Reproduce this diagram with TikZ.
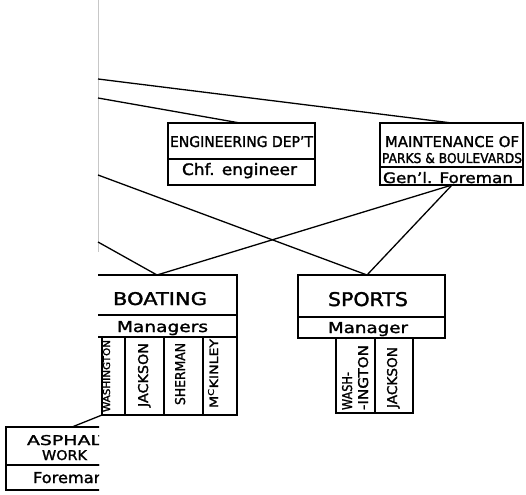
\documentclass[tikz,border=0pt]{standalone}
\usepackage{fontspec}
\setmainfont{DejaVu Sans}[FakeBold=1.6]
\usepackage{graphicx}
% lettering squeezed to a given width and cap height (in pt)
\newcommand{\fitw}[3]{\resizebox{#1pt}{#2pt}{#3}}

\begin{document}
\begin{tikzpicture}[x=1pt,y=-1pt,
  frame/.style={draw, line width=1.4pt, inner sep=0pt, outer sep=0pt, anchor=north west},
  wire/.style={line width=1.3pt},
  fold/.style={draw=black!22, line width=0.6pt},
  lbl/.style={inner sep=0pt, outer sep=0pt, anchor=base west},
  vlbl/.style={inner sep=0pt, outer sep=0pt, anchor=base west, rotate=90}]
\useasboundingbox (0,0) rectangle (526,494);

% sheet fold
\draw[fold] (98,0) -- (98,252);

% Engineering department
\node[frame, minimum width=147pt, minimum height=36pt] (engT) at (168,123) {};
\node[frame, minimum width=147pt, minimum height=26pt] (engR) at (168,159) {};
\node[lbl] (engL) at (170,147) {\fitw{143}{11}{ENGINEERING DEP'T}};
\node[lbl] (engM) at (182,175) {\fitw{115}{12}{Chf. engineer}};

% Maintenance of parks and boulevards
\node[frame, minimum width=143pt, minimum height=44pt] (mntT) at (380,123) {};
\node[frame, minimum width=143pt, minimum height=18pt] (mntR) at (380,167) {};
\node[lbl] (mntL1) at (385,147) {\fitw{134}{11}{MAINTENANCE OF}};
\node[lbl] (mntL2) at (382,163) {\fitw{140}{10}{PARKS {\&} BOULEVARDS}};
\node[lbl] (mntM) at (383,183) {\fitw{130}{11}{Gen'l. Foreman}};

% Boating
\begin{scope}
\clip (98,0) rectangle (526,494);
\node[frame, minimum width=147pt, minimum height=40pt] (boatT) at (90,275) {};
\node[frame, minimum width=147pt, minimum height=22pt] (boatR) at (90,315) {};
\node[frame, minimum width=23pt, minimum height=78pt] (bc1) at (102,337) {};
\node[frame, minimum width=39pt, minimum height=78pt] (bc2) at (125,337) {};
\node[frame, minimum width=39pt, minimum height=78pt] (bc3) at (164,337) {};
\node[frame, minimum width=34pt, minimum height=78pt] (bc4) at (203,337) {};
\node[vlbl] (bn1) at (110,412) {\fitw{72}{7}{WASHINGTON}};
\end{scope}
\node[lbl] (boatL) at (113,305) {\fitw{94}{13}{BOATING}};
\node[lbl] (boatM) at (117,332) {\fitw{91}{11}{Managers}};
\node[vlbl] (bn2) at (148,407) {\fitw{64}{10}{JACKSON}};
\node[vlbl] (bn3) at (185,405) {\fitw{62}{10}{SHERMAN}};
\node[vlbl] (bn4) at (218,408) {\fitw{69}{10}{M\textsuperscript{C}KINLEY}};

% Sports
\node[frame, minimum width=147pt, minimum height=42pt] (sprT) at (298,275) {};
\node[frame, minimum width=147pt, minimum height=21pt] (sprR) at (298,317) {};
\node[frame, minimum width=39pt, minimum height=75pt] (sc1) at (336,338) {};
\node[frame, minimum width=38pt, minimum height=75pt] (sc2) at (375,338) {};
\node[lbl] (sprL) at (328,306) {\fitw{80}{14}{SPORTS}};
\node[lbl] (sprM) at (328,333) {\fitw{80}{11}{Manager}};
\node[vlbl] (sn1a) at (352,410) {\fitw{38}{10}{WASH-}};
\node[vlbl] (sn1b) at (368,410) {\fitw{65}{10}{-INGTON}};
\node[vlbl] (sn2) at (397,408) {\fitw{61}{10}{JACKSON}};

% Asphalt work
\begin{scope}
\clip (0,0) rectangle (99,494);
\node[frame, minimum width=120pt, minimum height=38pt] (aspT) at (6,427) {};
\node[frame, minimum width=120pt, minimum height=25pt] (aspR) at (6,465) {};
\node[lbl] (aspL1) at (27,445) {\fitw{83}{10}{ASPHALT}};
\node[lbl] (aspL2) at (42,460) {\fitw{45}{10}{WORK}};
\node[lbl] (aspM) at (33,483) {\fitw{71}{11}{Foreman}};
\end{scope}

% connectors
\coordinate (f1) at (98,79);
\coordinate (f2) at (98,98);
\coordinate (f3) at (98,175);
\coordinate (f4) at (98,242);
\draw[wire] (f1) -- ([xshift=72pt]mntT.north west);
\draw[wire] (f2) -- ([xshift=72pt]engT.north west);
\draw[wire] (f3) -- ([xshift=69pt]sprT.north west);
\draw[wire] (f4) -- ([xshift=67pt]boatT.north west);
\draw[wire] ([xshift=72pt]mntR.south west) -- ([xshift=67pt]boatT.north west);
\draw[wire] ([xshift=72pt]mntR.south west) -- ([xshift=69pt]sprT.north west);
\draw[wire] (bc1.south west) -- ([xshift=66pt]aspT.north west);
\end{tikzpicture}
\end{document}
